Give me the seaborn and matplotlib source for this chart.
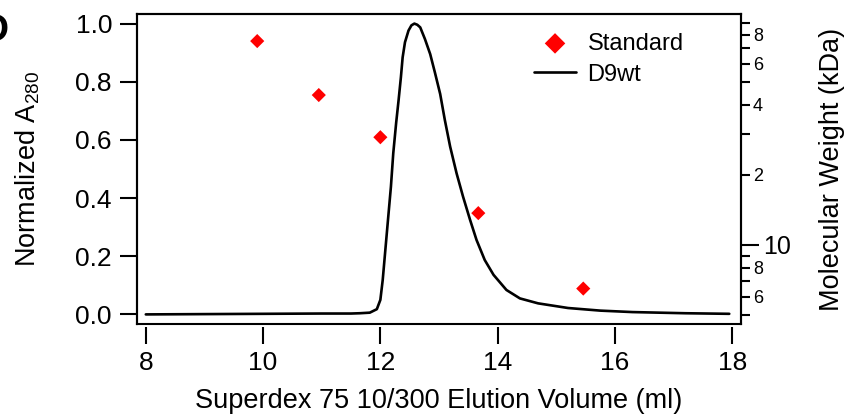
import numpy as np
import pandas as pd
import matplotlib
matplotlib.use("Agg")
import matplotlib.pyplot as plt
import seaborn as sns
from matplotlib.ticker import LogLocator, FuncFormatter, FixedLocator

# ---- data ----
elution_ml = [8.0, 9.0, 10.0, 11.0, 11.5, 11.65, 11.82, 11.94, 12.00, 12.04, 12.08, 12.13,
              12.18, 12.22, 12.27, 12.31, 12.35, 12.38, 12.42, 12.48, 12.53, 12.58, 12.63,
              12.68, 12.76, 12.85, 12.93, 13.02, 13.10, 13.19, 13.30, 13.41, 13.53, 13.64,
              13.78, 13.93, 14.15, 14.38, 14.69, 15.20, 15.75, 16.30, 17.20, 17.95]
a280_norm = [0.000, 0.001, 0.002, 0.003, 0.003, 0.004, 0.006, 0.018, 0.050, 0.118, 0.210, 0.325,
             0.439, 0.554, 0.660, 0.735, 0.815, 0.884, 0.936, 0.976, 0.994, 1.000, 0.996,
             0.987, 0.947, 0.895, 0.832, 0.758, 0.668, 0.577, 0.485, 0.405, 0.325, 0.256,
             0.187, 0.136, 0.084, 0.055, 0.038, 0.022, 0.013, 0.008, 0.004, 0.002]
std_volume_ml = [9.90, 10.95, 12.00, 13.67, 15.46]
std_mw_kda = [75.0, 44.0, 29.0, 13.7, 6.5]
x_ticks = [8, 10, 12, 14, 16, 18]
y_ticks = [0.0, 0.2, 0.4, 0.6, 0.8, 1.0]

sns.set_theme(style="ticks")
plt.rcParams['font.family'] = ['Liberation Sans', 'DejaVu Sans']
plt.rcParams['mathtext.fontset'] = 'custom'
plt.rcParams['mathtext.rm'] = 'Liberation Sans'
for k in ['text.color', 'axes.labelcolor', 'xtick.color', 'ytick.color', 'axes.edgecolor']:
    plt.rcParams[k] = 'black'

fig = plt.figure(figsize=(8.49, 4.17), dpi=100)
ax = fig.add_axes([137 / 849, 1 - 324 / 417, 604 / 849, 310 / 417])
ax2 = ax.twinx()

sns.lineplot(x=elution_ml, y=a280_norm, ax=ax, color='black', linewidth=1.9,
             errorbar=None, label='D9wt', legend=False)
sns.scatterplot(x=std_volume_ml, y=std_mw_kda, ax=ax2, marker='D', s=52, color='red',
                edgecolor='none', label='Standard', legend=False, zorder=5)

ax.set_xlim(7.85, 18.15)
ax.set_ylim(-0.033, 1.033)
ax.set_xticks(x_ticks)
ax.set_yticks(y_ticks)
ax.set_yticklabels([f"{v:.1f}" for v in y_ticks])

ax2.set_yscale('log')
ax2.set_ylim(4.58, 98)
ax2.yaxis.set_major_locator(FixedLocator([10]))
ax2.yaxis.set_major_formatter(FuncFormatter(lambda v, p: f"{v:.0f}"))
ax2.yaxis.set_minor_locator(LogLocator(base=10, subs=np.arange(2, 10)))

def minor_fmt(v, p):
    lead = int(round(v / 10 ** np.floor(np.log10(v) + 1e-9)))
    return str(lead) if lead in (2, 4, 6, 8) else ""

ax2.yaxis.set_minor_formatter(FuncFormatter(minor_fmt))

lw = 1.5
for s in list(ax.spines.values()) + list(ax2.spines.values()):
    s.set_linewidth(lw)
    s.set_color('black')
ax.spines['bottom'].set_position(('outward', 2.5))
ax.spines['bottom'].set_color('none')

ax.tick_params(axis='y', which='major', length=12, width=lw, labelsize=19, pad=6, color='black')
ax.tick_params(axis='x', which='major', length=12, width=lw, labelsize=19, pad=5, color='black')
ax2.tick_params(axis='y', which='major', length=13, width=lw, labelsize=18, pad=3, color='black')
ax2.tick_params(axis='y', which='minor', length=6.5, width=lw, labelsize=13, pad=2, color='black')

ax.set_xlabel('Superdex 75 10/300 Elution Volume (ml)', fontsize=19.5, labelpad=9)
ax.set_ylabel('Normalized A$_{\\mathregular{280}}$', fontsize=19.5, labelpad=24)
ax2.set_ylabel('Molecular Weight (kDa)', fontsize=19.5, labelpad=20)

h1, l1 = ax2.get_legend_handles_labels()
h0, l0 = ax.get_legend_handles_labels()
leg = ax2.legend(h1 + h0, l1 + l0, loc='upper right', bbox_to_anchor=(0.905, 0.94),
                 frameon=False, fontsize=17, markerscale=1.45, handlelength=1.75,
                 handletextpad=0.5, labelspacing=0.38, borderaxespad=0, borderpad=0)

fig.text(0.0105, 1 - 13 / 417, 'D', fontsize=28, fontweight='bold', va='top', ha='right')

fig.savefig('out.png', dpi=100)
